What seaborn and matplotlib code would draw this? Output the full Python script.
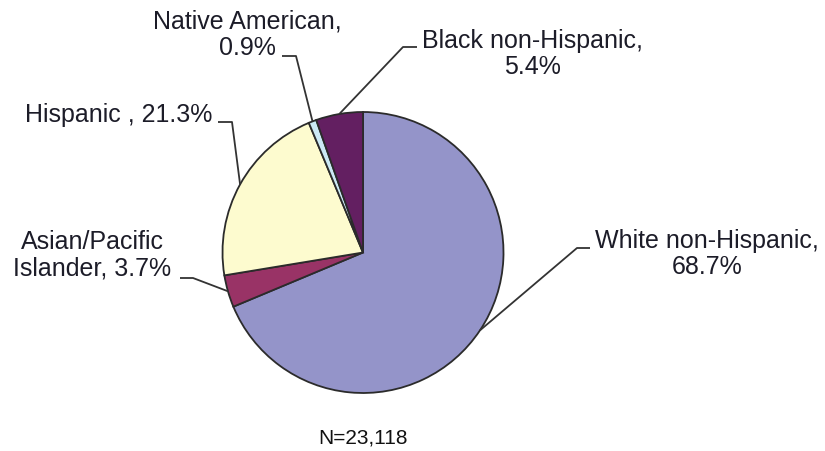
import numpy as np
import matplotlib
matplotlib.use("Agg")
import matplotlib.pyplot as plt
import seaborn as sns

# data
groups = ["White non-Hispanic", "Asian/Pacific Islander", "Hispanic",
          "Native American", "Black non-Hispanic"]
shares = [68.7, 3.7, 21.3, 0.9, 5.4]
labels = ["White non-Hispanic,\n68.7%", "Asian/Pacific\nIslander, 3.7%",
          "Hispanic , 21.3%", "Native American,\n0.9%", "Black non-Hispanic,\n5.4%"]
colors = ["#9494c9", "#993366", "#fdfbcf", "#cce9f5", "#631f61"]
note = "N=23,118"

sns.set_theme(style="white")
plt.rcParams['font.family'] = ['Liberation Sans', 'DejaVu Sans']

W, H = 825, 451
fig = plt.figure(figsize=(W / 100, H / 100), dpi=100)
ax = fig.add_axes([0, 0, 1, 1])

cx, cy, r = 363, H - 252.5, 140.5
wedges, _ = ax.pie(shares, colors=sns.color_palette(colors), startangle=90,
                   counterclock=False, center=(cx, cy), radius=r,
                   wedgeprops=dict(edgecolor="#2b2b2b", linewidth=1.3))

# label layout in pixels (x, y from top): text centre, elbow, end of stub
layout = [
    ((707, 254), (577, 248), (590, 248)),
    ((92, 255), (193, 278), (180, 278)),
    ((119, 115), (232, 122), (218, 122)),
    ((247, 35), (296, 56), (282, 56)),
    ((532, 54), (403, 47), (417, 47)),
]

for w, lab, (txt, elb, end) in zip(wedges, labels, layout):
    ang = np.deg2rad((w.theta1 + w.theta2) / 2)
    ex, ey = cx + r * np.cos(ang), cy + r * np.sin(ang)
    ax.plot([ex, elb[0], end[0]], [ey, H - elb[1], H - end[1]],
            color="#333333", lw=1.3, solid_capstyle="butt")
    ax.text(txt[0], H - txt[1], lab, ha="center", va="center",
            multialignment="center", fontsize=18, color="#1c1c28",
            linespacing=1.15)

ax.text(363, H - 438, note, ha="center", va="center", fontsize=15, color="#111111")

ax.set_xlim(0, W)
ax.set_ylim(0, H)
ax.axis("off")
fig.savefig("out.png", dpi=100, facecolor="white")
